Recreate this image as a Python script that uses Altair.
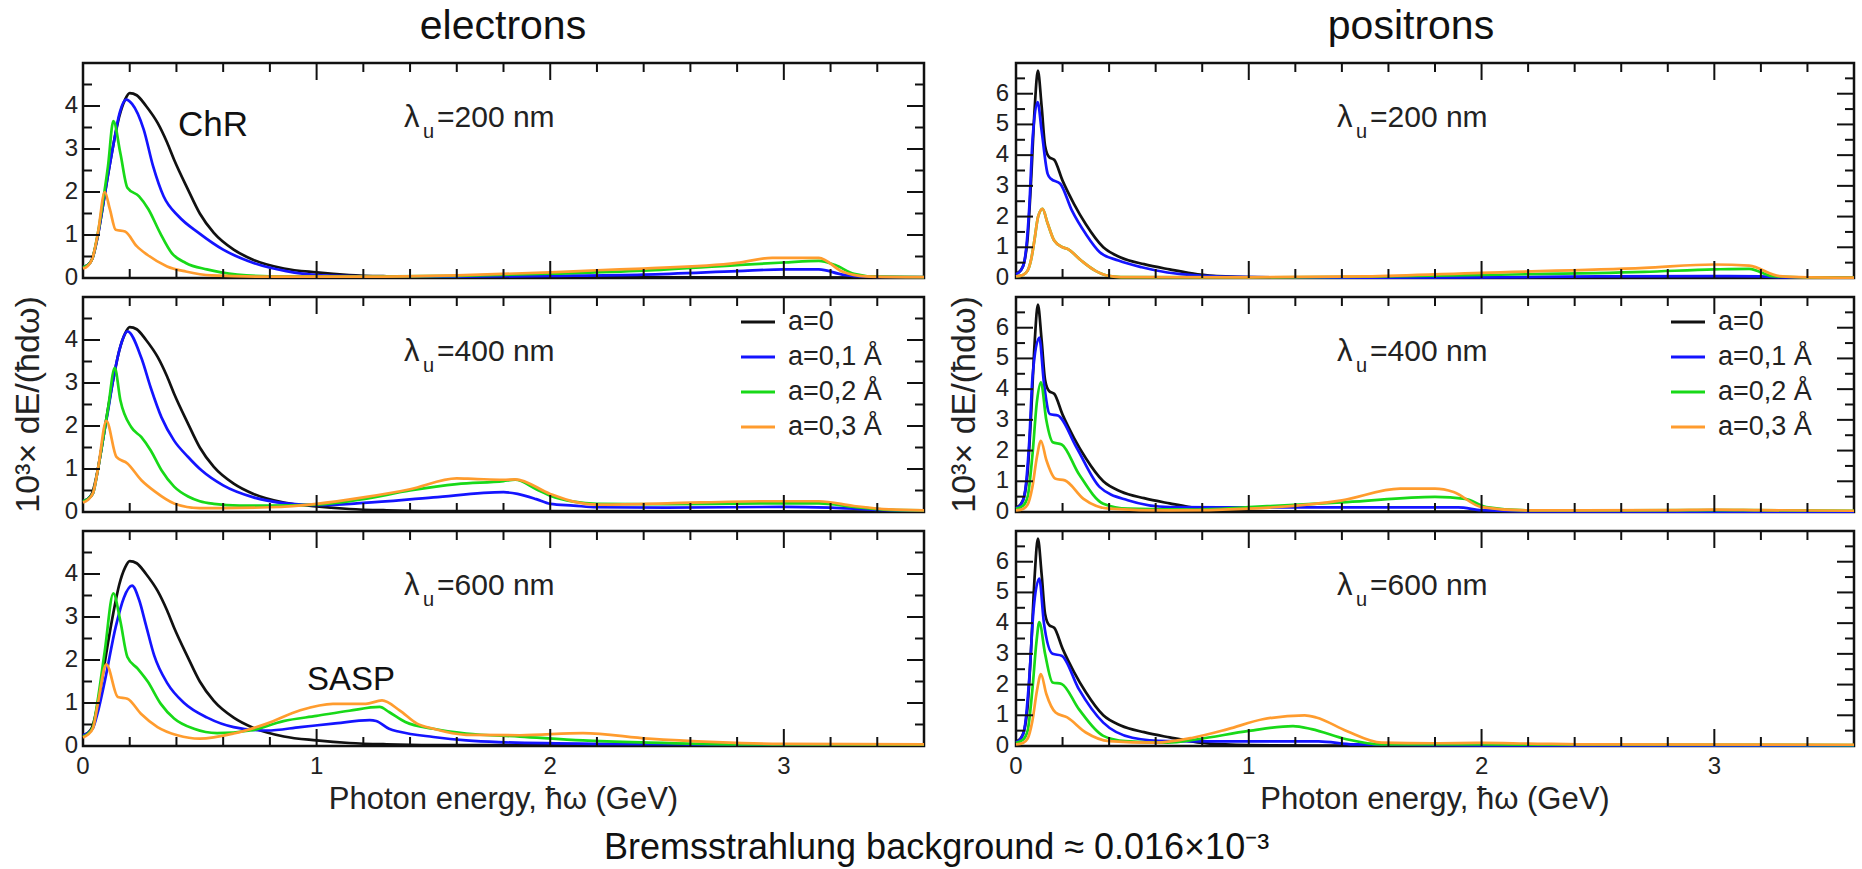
import altair as alt
import pandas as pd

FONT = "Liberation Sans"
TXT = "#222222"
TICK = "#111111"

X_DOMAIN = [0, 3.6]
E_Y_DOMAIN = [0, 5]
P_Y_DOMAIN = [0, 7]

X_LABELS = [0, 1, 2, 3]
X_MAJOR = [1, 2, 3]
X_MINOR = [0.2, 0.4, 0.6, 0.8, 1.2, 1.4, 1.6, 1.8, 2.2, 2.4, 2.6, 2.8, 3.2, 3.4]
E_Y_LABELS = [0, 1, 2, 3, 4]
E_Y_MAJOR = [1, 2, 3, 4]
E_Y_MINOR = [0.5, 1.5, 2.5, 3.5, 4.5]
P_Y_LABELS = [0, 1, 2, 3, 4, 5, 6]
P_Y_MAJOR = [1, 2, 3, 4, 5, 6]
P_Y_MINOR = [0.5, 1.5, 2.5, 3.5, 4.5, 5.5, 6.5]

SERIES = ["a=0", "a=0,1 Å", "a=0,2 Å", "a=0,3 Å"]
COLORS = ["#111111", "#1414ff", "#18d918", "#ff9c2e"]
LAMBDAS = ["=200 nm", "=400 nm", "=600 nm"]
COLUMNS = ["electrons", "positrons"]

# ---------------- electrons ----------------
E_A0 = [(0.0, 0.25), (0.02, 0.3), (0.04, 0.45), (0.064, 1.0), (0.086, 1.7), (0.107, 2.4),
        (0.13, 3.1), (0.155, 3.75), (0.18, 4.15), (0.2, 4.3), (0.23, 4.25), (0.27, 4.0),
        (0.32, 3.6), (0.36, 3.15), (0.39, 2.75), (0.45, 2.05), (0.5, 1.5), (0.56, 1.05),
        (0.645, 0.66), (0.73, 0.42), (0.86, 0.22), (1.0, 0.13), (1.14, 0.07), (1.3, 0.04),
        (1.6, 0.02), (2.0, 0.02), (3.6, 0.01)]

E200_A1 = [(0.0, 0.25), (0.02, 0.3), (0.04, 0.45), (0.064, 1.0), (0.086, 1.7), (0.107, 2.4),
           (0.13, 3.1), (0.155, 3.8), (0.185, 4.15), (0.21, 4.05), (0.26, 3.45), (0.3, 2.6),
           (0.345, 1.9), (0.41, 1.43), (0.495, 1.05), (0.6, 0.66), (0.73, 0.35), (0.87, 0.16),
           (1.0, 0.07), (1.2, 0.04), (1.6, 0.03), (2.0, 0.05), (2.4, 0.08), (2.8, 0.16),
           (3.0, 0.2), (3.15, 0.2), (3.25, 0.08), (3.35, 0.03), (3.6, 0.02)]
E200_A2 = [(0.0, 0.25), (0.02, 0.3), (0.04, 0.45), (0.064, 1.05), (0.086, 1.8), (0.107, 2.6),
           (0.13, 3.65), (0.16, 2.9), (0.19, 2.1), (0.24, 1.9), (0.28, 1.6), (0.33, 1.05),
           (0.38, 0.58), (0.44, 0.35), (0.53, 0.2), (0.66, 0.08), (0.8, 0.04), (1.2, 0.03),
           (1.6, 0.05), (2.0, 0.1), (2.4, 0.17), (2.8, 0.3), (3.0, 0.36), (3.15, 0.4),
           (3.22, 0.3), (3.3, 0.1), (3.4, 0.03), (3.6, 0.02)]
E200_A3 = [(0.0, 0.22), (0.02, 0.28), (0.04, 0.45), (0.064, 1.05), (0.093, 2.0), (0.115, 1.6),
           (0.14, 1.12), (0.18, 1.08), (0.23, 0.74), (0.275, 0.54), (0.36, 0.27), (0.44, 0.15),
           (0.55, 0.06), (0.8, 0.03), (1.2, 0.03), (1.6, 0.06), (2.0, 0.13), (2.2, 0.18),
           (2.4, 0.22), (2.8, 0.35), (2.95, 0.47), (3.15, 0.47), (3.25, 0.15), (3.35, 0.04),
           (3.6, 0.02)]

E400_A1 = [(0.0, 0.25), (0.02, 0.3), (0.043, 0.44), (0.064, 1.0), (0.086, 1.7), (0.107, 2.35),
           (0.13, 3.1), (0.16, 3.85), (0.19, 4.2), (0.25, 3.58), (0.29, 2.89), (0.336, 2.2),
           (0.39, 1.66), (0.45, 1.28), (0.507, 0.97), (0.6, 0.62), (0.73, 0.34), (0.87, 0.2),
           (1.0, 0.16), (1.2, 0.21), (1.5, 0.34), (1.8, 0.46), (1.86, 0.42), (1.94, 0.3),
           (2.0, 0.19), (2.1, 0.15), (2.2, 0.11), (2.5, 0.1), (3.0, 0.12), (3.2, 0.1),
           (3.4, 0.05), (3.6, 0.03)]
E400_A2 = [(0.0, 0.25), (0.02, 0.3), (0.043, 0.44), (0.064, 1.0), (0.086, 1.7), (0.107, 2.4),
           (0.136, 3.35), (0.16, 2.6), (0.207, 1.97), (0.25, 1.74), (0.29, 1.43), (0.336, 0.97),
           (0.39, 0.59), (0.45, 0.36), (0.5, 0.25), (0.56, 0.19), (0.67, 0.15), (0.8, 0.15),
           (1.0, 0.17), (1.2, 0.3), (1.4, 0.5), (1.6, 0.65), (1.8, 0.72), (1.85, 0.75),
           (1.94, 0.53), (2.0, 0.38), (2.1, 0.24), (2.2, 0.19), (2.5, 0.18), (2.9, 0.2),
           (3.15, 0.2), (3.3, 0.12), (3.45, 0.05), (3.6, 0.04)]
E400_A3 = [(0.0, 0.22), (0.02, 0.28), (0.043, 0.44), (0.064, 1.0), (0.1, 2.12), (0.143, 1.28),
           (0.19, 1.13), (0.25, 0.74), (0.307, 0.48), (0.39, 0.2), (0.5, 0.09), (0.6, 0.09),
           (0.8, 0.11), (1.0, 0.19), (1.2, 0.34), (1.4, 0.53), (1.6, 0.78), (1.67, 0.77),
           (1.8, 0.75), (1.85, 0.76), (2.0, 0.42), (2.1, 0.24), (2.2, 0.17), (2.5, 0.2),
           (2.9, 0.25), (3.15, 0.25), (3.3, 0.14), (3.45, 0.06), (3.6, 0.04)]

E600_A1 = [(0.0, 0.25), (0.02, 0.3), (0.043, 0.42), (0.064, 0.8), (0.093, 1.5), (0.14, 2.77),
           (0.175, 3.45), (0.21, 3.73), (0.24, 3.4), (0.27, 2.8), (0.305, 2.1), (0.362, 1.45),
           (0.433, 1.0), (0.532, 0.66), (0.645, 0.44), (0.787, 0.36), (0.93, 0.44), (1.07, 0.52),
           (1.227, 0.6), (1.255, 0.58), (1.31, 0.4), (1.355, 0.33), (1.5, 0.21), (1.64, 0.13),
           (1.78, 0.09), (2.2, 0.05), (2.6, 0.04), (3.6, 0.03)]
E600_A2 = [(0.0, 0.22), (0.02, 0.28), (0.043, 0.45), (0.064, 1.1), (0.093, 2.2), (0.13, 3.55),
           (0.16, 2.9), (0.19, 2.07), (0.234, 1.8), (0.277, 1.5), (0.333, 0.98), (0.39, 0.64),
           (0.475, 0.4), (0.574, 0.3), (0.716, 0.36), (0.858, 0.58), (1.0, 0.7), (1.14, 0.82),
           (1.27, 0.91), (1.31, 0.79), (1.38, 0.56), (1.5, 0.4), (1.64, 0.29), (1.87, 0.22),
           (2.14, 0.13), (2.42, 0.08), (2.8, 0.04), (3.6, 0.03)]
E600_A3 = [(0.0, 0.2), (0.02, 0.26), (0.043, 0.42), (0.064, 1.0), (0.1, 1.9), (0.149, 1.14),
           (0.19, 1.1), (0.248, 0.75), (0.319, 0.44), (0.404, 0.25), (0.5, 0.17), (0.645, 0.29),
           (0.787, 0.52), (0.93, 0.83), (1.07, 0.98), (1.21, 0.98), (1.28, 1.06), (1.355, 0.83),
           (1.43, 0.52), (1.5, 0.4), (1.64, 0.26), (1.87, 0.25), (2.14, 0.3), (2.42, 0.17),
           (2.71, 0.09), (2.99, 0.05), (3.6, 0.04)]

# ---------------- positrons ----------------
P_A0 = [(0.0, 0.15), (0.02, 0.25), (0.035, 0.5), (0.05, 1.3), (0.065, 3.2), (0.08, 5.5),
        (0.094, 6.75), (0.11, 5.6), (0.125, 4.3), (0.143, 3.93), (0.164, 3.85), (0.2, 3.17),
        (0.25, 2.4), (0.3, 1.75), (0.375, 1.0), (0.45, 0.67), (0.55, 0.45), (0.66, 0.28),
        (0.78, 0.12), (0.9, 0.05), (1.0, 0.03), (1.5, 0.01), (3.6, 0.01)]

P200_A1 = [(0.0, 0.12), (0.02, 0.24), (0.035, 0.5), (0.057, 2.3), (0.071, 4.5), (0.093, 5.73),
           (0.11, 4.8), (0.136, 3.39), (0.15, 3.23), (0.19, 3.07), (0.24, 2.2), (0.3, 1.43),
           (0.36, 0.84), (0.44, 0.57), (0.54, 0.35), (0.65, 0.18), (0.79, 0.08), (1.0, 0.03),
           (1.5, 0.01), (2.0, 0.02), (2.5, 0.05), (3.0, 0.06), (3.2, 0.05), (3.3, 0.02),
           (3.6, 0.01)]
P200_A2 = [(0.0, 0.05), (0.03, 0.1), (0.05, 0.24), (0.065, 0.6), (0.079, 1.22), (0.095, 2.0),
           (0.114, 2.25), (0.135, 1.8), (0.164, 1.22), (0.2, 1.0), (0.22, 0.95), (0.28, 0.57),
           (0.34, 0.24), (0.39, 0.08), (0.45, 0.03), (1.0, 0.02), (1.5, 0.04), (2.0, 0.1),
           (2.7, 0.2), (3.0, 0.28), (3.15, 0.3), (3.25, 0.06), (3.4, 0.02), (3.6, 0.01)]
P200_A3 = [(0.0, 0.05), (0.03, 0.1), (0.05, 0.24), (0.065, 0.6), (0.079, 1.22), (0.095, 2.0),
           (0.114, 2.25), (0.135, 1.8), (0.164, 1.22), (0.2, 1.0), (0.22, 0.95), (0.28, 0.57),
           (0.34, 0.24), (0.39, 0.08), (0.45, 0.03), (1.0, 0.02), (1.5, 0.05), (2.0, 0.17),
           (2.7, 0.33), (3.0, 0.44), (3.15, 0.4), (3.28, 0.06), (3.4, 0.02), (3.6, 0.01)]

P400_A1 = [(0.0, 0.12), (0.02, 0.24), (0.035, 0.5), (0.057, 2.3), (0.071, 4.4), (0.1, 5.68),
           (0.12, 4.2), (0.145, 3.19), (0.18, 3.14), (0.26, 2.1), (0.36, 0.81), (0.48, 0.38),
           (0.66, 0.16), (1.0, 0.15), (1.5, 0.15), (1.9, 0.15), (2.0, 0.06), (2.2, 0.02),
           (3.6, 0.01)]
P400_A2 = [(0.0, 0.1), (0.03, 0.2), (0.05, 0.5), (0.07, 1.8), (0.09, 3.6), (0.107, 4.22),
           (0.13, 3.0), (0.158, 2.27), (0.196, 2.2), (0.27, 1.24), (0.375, 0.27), (0.48, 0.11),
           (0.78, 0.08), (1.0, 0.16), (1.42, 0.32), (1.8, 0.49), (1.93, 0.43), (2.02, 0.16),
           (2.2, 0.05), (3.0, 0.06), (3.6, 0.04)]
P400_A3 = [(0.0, 0.05), (0.03, 0.1), (0.05, 0.24), (0.07, 0.8), (0.09, 1.8), (0.107, 2.32),
           (0.13, 1.7), (0.17, 1.08), (0.21, 1.03), (0.29, 0.43), (0.4, 0.11), (0.66, 0.05),
           (1.0, 0.11), (1.4, 0.38), (1.65, 0.76), (1.8, 0.76), (1.88, 0.65), (2.0, 0.16),
           (2.19, 0.05), (2.8, 0.06), (3.0, 0.08), (3.2, 0.06), (3.6, 0.04)]

P600_A1 = [(0.0, 0.12), (0.02, 0.24), (0.035, 0.5), (0.057, 2.2), (0.075, 4.4), (0.1, 5.45),
           (0.12, 4.0), (0.157, 3.0), (0.196, 2.94), (0.27, 1.85), (0.375, 0.76), (0.5, 0.27),
           (0.65, 0.16), (1.0, 0.15), (1.3, 0.15), (1.45, 0.05), (2.0, 0.02), (3.6, 0.01)]
P600_A2 = [(0.0, 0.1), (0.03, 0.2), (0.05, 0.5), (0.07, 1.8), (0.088, 3.4), (0.1, 4.03),
           (0.125, 3.0), (0.157, 2.07), (0.196, 2.02), (0.27, 1.2), (0.375, 0.33), (0.47, 0.16),
           (0.65, 0.11), (0.78, 0.22), (1.0, 0.49), (1.19, 0.65), (1.27, 0.55), (1.42, 0.22),
           (1.57, 0.05), (2.0, 0.05), (3.6, 0.03)]
P600_A3 = [(0.0, 0.05), (0.03, 0.1), (0.05, 0.24), (0.07, 0.8), (0.09, 1.8), (0.107, 2.34),
           (0.13, 1.7), (0.17, 1.09), (0.22, 0.93), (0.3, 0.44), (0.4, 0.16), (0.6, 0.11),
           (0.76, 0.27), (0.91, 0.55), (1.06, 0.87), (1.24, 1.0), (1.29, 0.93), (1.42, 0.49),
           (1.57, 0.11), (1.8, 0.09), (2.0, 0.1), (2.2, 0.08), (2.5, 0.05), (3.6, 0.04)]

ELECTRONS = [[E_A0, E200_A1, E200_A2, E200_A3],
             [E_A0, E400_A1, E400_A2, E400_A3],
             [E_A0, E600_A1, E600_A2, E600_A3]]
POSITRONS = [[P_A0, P200_A1, P200_A2, P200_A3],
             [P_A0, P400_A1, P400_A2, P400_A3],
             [P_A0, P600_A1, P600_A2, P600_A3]]

H = 215
W_LEFT = 841
W_RIGHT = 838
MAJ = 17
MIN = 9
ONE = pd.DataFrame({"k": [0]})


def text(s, x, y, size, color=TXT, align="left", baseline="alphabetic", angle=0):
    kw = dict(text=s, font=FONT, fontSize=size, color=color, align=align, baseline=baseline)
    if angle:
        kw["angle"] = angle
    return alt.Chart(ONE).mark_text(**kw).encode(x=alt.value(x), y=alt.value(y))


def panel(curves, ydom, ymaj, ymin, ylabels, w, row, col):
    xs = alt.Scale(domain=X_DOMAIN, nice=False, zero=False)
    ys = alt.Scale(domain=ydom, nice=False, zero=False)
    layers = []
    for pts, color in zip(curves, COLORS):
        df = pd.DataFrame(pts, columns=["e", "v"])
        layers.append(
            alt.Chart(df).mark_line(color=color, strokeWidth=2.7, interpolate="monotone").encode(
                x=alt.X("e:Q", scale=xs, axis=None),
                y=alt.Y("v:Q", scale=ys, axis=None)))
    # inward ticks on all four sides
    for vals, L in ((X_MAJOR, MAJ), (X_MINOR, MIN)):
        base = alt.Chart(pd.DataFrame({"t": vals})).mark_rule(color=TICK, strokeWidth=2)
        layers.append(base.encode(x=alt.X("t:Q", scale=xs, axis=None), y=alt.value(H), y2=alt.value(H - L)))
        layers.append(base.encode(x=alt.X("t:Q", scale=xs, axis=None), y=alt.value(0), y2=alt.value(L)))
    for vals, L in ((ymaj, MAJ), (ymin, MIN)):
        base = alt.Chart(pd.DataFrame({"t": vals})).mark_rule(color=TICK, strokeWidth=2)
        layers.append(base.encode(y=alt.Y("t:Q", scale=ys, axis=None), x=alt.value(0), x2=alt.value(L)))
        layers.append(base.encode(y=alt.Y("t:Q", scale=ys, axis=None), x=alt.value(w), x2=alt.value(w - L)))

    # tick labels
    layers.append(alt.Chart(pd.DataFrame({"t": ylabels})).mark_text(
        font=FONT, fontSize=24, color=TXT, align="right", baseline="middle").encode(
        y=alt.Y("t:Q", scale=ys, axis=None), x=alt.value(-5 if col == 0 else -7),
        text=alt.Text("t:Q", format="d")))
    if row == 2:
        layers.append(alt.Chart(pd.DataFrame({"t": X_LABELS})).mark_text(
            font=FONT, fontSize=24, color=TXT, align="center", baseline="middle").encode(
            x=alt.X("t:Q", scale=xs, axis=None), y=alt.value(H + 21),
            text=alt.Text("t:Q", format="d")))

    # lambda label
    lx = 321
    layers.append(text("λ", lx, 64, 31))
    layers.append(text("u", lx + 19, 75, 20))
    layers.append(text(LAMBDAS[row], lx + 33, 64, 30))

    if row == 1:
        # legend
        for i, (s, c) in enumerate(zip(SERIES, COLORS)):
            yy = 25 + 35 * i
            layers.append(alt.Chart(ONE).mark_rule(color=c, strokeWidth=3).encode(
                x=alt.value(w - 183), x2=alt.value(w - 149), y=alt.value(yy)))
            layers.append(text(s, w - 136, yy, 27, baseline="middle"))
        # y axis title
        layers.append(text("10³× dE/(ħdω)", -54 if col == 0 else -51, H / 2, 34,
                           align="center", baseline="middle", angle=270))
    if row == 2:
        layers.append(text("Photon energy, ħω (GeV)", w / 2, H + 54, 31, align="center",
                           baseline="middle"))
    if row == 0:
        layers.append(text(COLUMNS[col], 420 if col == 0 else 395, -24, 41, color="#111111",
                           align="center"))
    if row == 0 and col == 0:
        layers.append(text("ChR", 95, 73, 35, color="#111111"))
        # invisible anchor fixing the top-left corner of the page
        layers.append(alt.Chart(ONE).mark_rule(strokeOpacity=0, color="white", strokeWidth=1).encode(
            x=alt.value(-81.5), x2=alt.value(-80.5), y=alt.value(-61.5), y2=alt.value(-61.5)))
    if row == 2 and col == 0:
        layers.append(text("SASP", 224, 159, 33, color="#111111"))
        layers.append(text("Bremsstrahlung background ≈ 0.016×10⁻³", 521, H + 113, 36,
                           color="#111111"))
    return alt.layer(*layers).properties(width=w, height=H)


panels = []
for r in range(3):
    panels.append(panel(ELECTRONS[r], E_Y_DOMAIN, E_Y_MAJOR, E_Y_MINOR, E_Y_LABELS, W_LEFT, r, 0))
    panels.append(panel(POSITRONS[r], P_Y_DOMAIN, P_Y_MAJOR, P_Y_MINOR, P_Y_LABELS, W_RIGHT, r, 1))

chart = alt.concat(*panels, columns=2, spacing={"row": 19, "column": 92}, bounds="flush").properties(
    padding=0, background="white"
).configure_view(stroke="#111111", strokeWidth=2.5).configure_axis(grid=False)

chart.save("out.html", embed_options={"renderer": "svg", "actions": False})
